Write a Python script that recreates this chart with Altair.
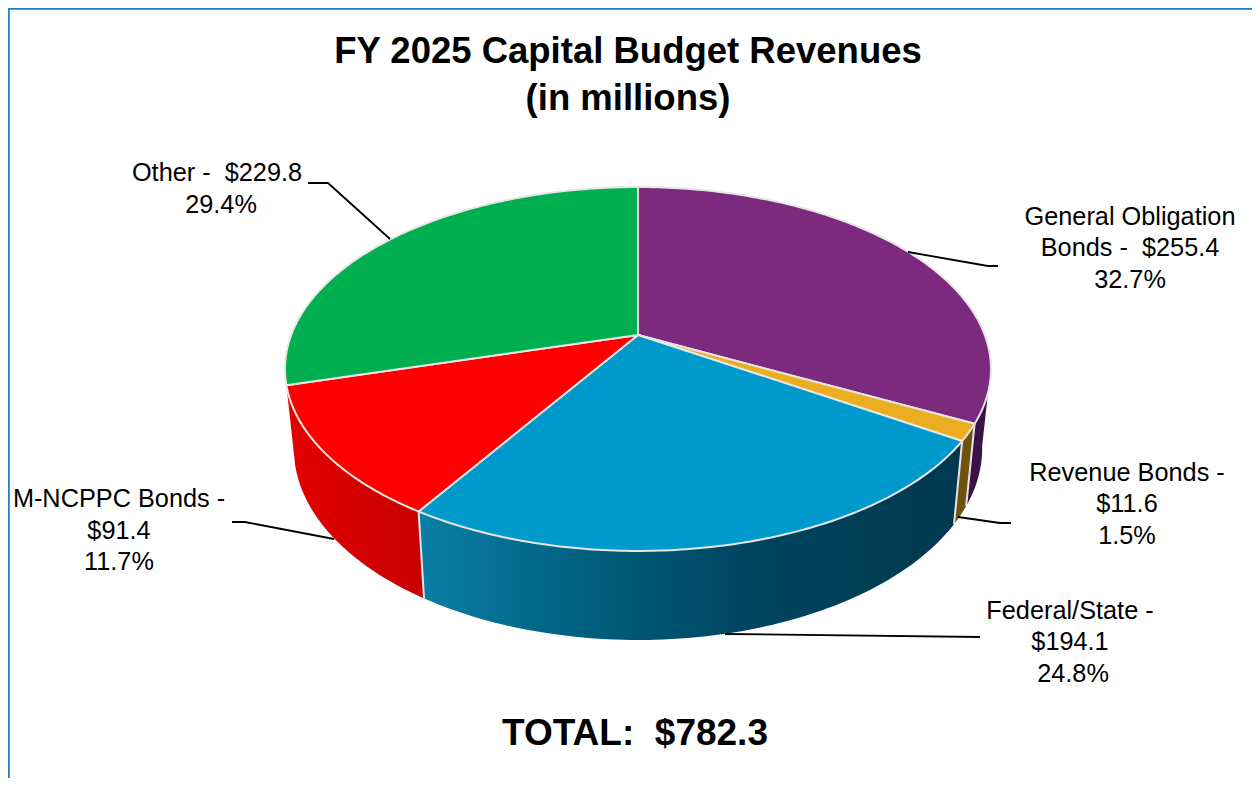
import math
import altair as alt
import pandas as pd

# ---- chart values ----
categories = ["General Obligation Bonds", "Revenue Bonds", "Federal/State", "M-NCPPC Bonds", "Other"]
values = [255.4, 11.6, 194.1, 91.4, 229.8]
title_lines = ["FY 2025 Capital Budget Revenues", "(in millions)"]
total_label = "TOTAL:\u00a0 $782.3"
label_lines = [
    ["General Obligation", "Bonds -\u00a0 $255.4", "32.7%"],
    ["Revenue Bonds -", "$11.6", "1.5%"],
    ["Federal/State -", "$194.1", "24.8%"],
    ["M-NCPPC Bonds -", "$91.4", "11.7%"],
    ["Other -\u00a0 $229.8", "29.4%"],
]

# ---- styling and layout ----
top_colors = ["#7B2A7E", "#EBAE20", "#0099CC", "#FF0000", "#00B050"]
side_fills = [
    "#3A1247",
    "#6E5210",
    alt.LinearGradient(gradient="linear", x1=0, x2=1, y1=0, y2=0, stops=[
        alt.GradientStop(color="#0A7FA6", offset=0),
        alt.GradientStop(color="#00607F", offset=0.3),
        alt.GradientStop(color="#004560", offset=0.6),
        alt.GradientStop(color="#00394F", offset=1),
    ]),
    alt.LinearGradient(gradient="linear", x1=0, x2=1, y1=0, y2=0, stops=[
        alt.GradientStop(color="#E40000", offset=0),
        alt.GradientStop(color="#C80000", offset=1),
    ]),
]
EDGE = "#E6E6E6"
FONT = "Liberation Sans"
W, H = 1244, 770
M = 8

# perspective parameters of the tilted disc
CX, CY, A, B, K = 638, 335, 346.8, 175.6, 0.1867
F, Y0, B2 = 0.975, 412.5, 185


def top_pt(t):
    s, c = math.sin(t), math.cos(t)
    w = 1 + K * c
    return CX + A * s / w, CY - B * c / w


def bottom_pt(t):
    s, c = math.sin(t), math.cos(t)
    w = 1 + K * c
    return CX + F * A * s / w, Y0 - B2 * c / w


def arc(fn, t1, t2, n=80):
    return [fn(t1 + (t2 - t1) * i / n) for i in range(n + 1)]


total = sum(values)
bounds = [0]
for v in values:
    bounds.append(bounds[-1] + v / total * 2 * math.pi)

x_enc = alt.X("x:Q", scale=alt.Scale(domain=[M, M + W]), axis=None)
y_enc = alt.Y("y:Q", scale=alt.Scale(domain=[M + H, M]), axis=None)


def polygon(points, fill, stroke=None, width=1.5):
    pts = points + [points[0]]
    df = pd.DataFrame({"x": [p[0] for p in pts], "y": [p[1] for p in pts], "o": range(len(pts))})
    kw = {"stroke": stroke, "strokeWidth": width} if stroke else {"strokeWidth": 0}
    return alt.Chart(df).mark_line(fill=fill, strokeJoin="round", **kw).encode(
        x=x_enc, y=y_enc, order="o:Q")


def polyline(points, color="#000000", width=1.8):
    df = pd.DataFrame({"x": [p[0] for p in points], "y": [p[1] for p in points], "o": range(len(points))})
    return alt.Chart(df).mark_line(color=color, strokeWidth=width).encode(x=x_enc, y=y_enc, order="o:Q")


def text(lines, anchors, size, bold=False):
    df = pd.DataFrame({"t": lines, "x": [a[0] for a in anchors], "y": [a[1] for a in anchors]})
    return alt.Chart(df).mark_text(font=FONT, fontSize=size, align="center", baseline="middle",
                                   fontWeight="bold" if bold else "normal", color="#000000").encode(
        x=x_enc, y=y_enc, text="t:N")


layers = []
# frame
layers.append(polyline([(M + 0.5, M + H), (M + 0.5, M + 0.5), (M + W, M + 0.5)], color="#1F7FCB", width=2.5))

# side walls, back to front
purple_start = math.radians(100)
side_spans = [(purple_start, bounds[1]), (bounds[1], bounds[2]), (bounds[2], bounds[3]), (bounds[3], bounds[4])]
for (t1, t2), fill in zip(side_spans, side_fills):
    pts = arc(top_pt, t1, t2) + arc(bottom_pt, t2, t1)
    layers.append(polygon(pts, fill, stroke=None))
# light seams between walls
for i in (1, 2, 3):
    layers.append(polyline([top_pt(bounds[i]), bottom_pt(bounds[i])], color=EDGE, width=2))

# top faces
for i, color in enumerate(top_colors):
    pts = [(CX, CY)] + arc(top_pt, bounds[i], bounds[i + 1], 120)
    layers.append(polygon(pts, color, stroke=EDGE, width=2))

# leader lines
leaders = [
    [(908, 252), (988, 266), (998, 266)],
    [(958, 517), (1000, 523), (1011, 523)],
    [(725, 634), (980, 637)],
    [(232, 522), (245, 522), (334, 539)],
    [(308, 183), (328, 183), (390, 239)],
]
for l in leaders:
    layers.append(polyline(l))

# text
layers.append(text(title_lines, [(628, 51.5), (628, 98.5)], 36.5, bold=True))
layers.append(text([total_label], [(635, 733.5)], 37, bold=True))
label_pos = [
    [(1130, 217), (1130, 248), (1130, 280)],
    [(1127, 473), (1127, 504), (1127, 536)],
    [(1070, 611), (1070, 642), (1073, 674)],
    [(119, 499), (119, 531), (119, 562)],
    [(217, 173), (221, 205)],
]
for lines, pos in zip(label_lines, label_pos):
    layers.append(text(lines, pos, 25.3))

chart = alt.layer(*layers).properties(
    width=W, height=H, padding=0, background="white",
    autosize=alt.AutoSizeParams(type="none"),
).configure_view(stroke=None)
chart.save("out.html", embed_options={"renderer": "svg", "actions": False})
